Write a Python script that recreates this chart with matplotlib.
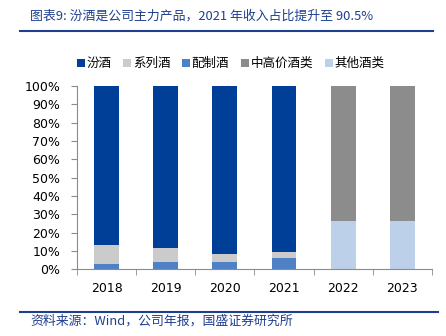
import matplotlib.pyplot as plt
from matplotlib.lines import Line2D
from matplotlib.ticker import PercentFormatter

plt.rcParams['font.family'] = ['Noto Sans CJK SC', 'DejaVu Sans']

# 数据
years = ['2018', '2019', '2020', '2021', '2022', '2023']
fenjiu = [86.8, 88.5, 91.9, 90.5, 0, 0]
xilie = [10.3, 7.7, 4.1, 3.6, 0, 0]
peizhi = [2.9, 3.8, 4.0, 5.9, 0, 0]
zhonggao = [0, 0, 0, 0, 73.6, 73.8]
qita = [0, 0, 0, 0, 26.4, 26.2]

series_names = ['汾酒', '系列酒', '配制酒', '中高价酒类', '其他酒类']
colors = ['#003f98', '#cbcbcb', '#4f81c6', '#8c8c8c', '#bdd0ea']

fig = plt.figure(figsize=(4.46, 3.36), dpi=100)
ax = fig.add_axes([0.1726, 0.199, 0.796, 0.545])

x = range(len(years))
w = 0.42
# 堆叠顺序：底部为配制酒/其他酒类
stack = [
    (peizhi, colors[2]),
    (xilie, colors[1]),
    (fenjiu, colors[0]),
    (qita, colors[4]),
    (zhonggao, colors[3]),
]
bottom = [0] * len(years)
for vals, c in stack:
    ax.bar(x, vals, w, bottom=bottom, color=c, linewidth=0)
    bottom = [b + v for b, v in zip(bottom, vals)]

ax.set_xlim(-0.5, len(years) - 0.5)
ax.set_ylim(0, 100)
ax.set_yticks(range(0, 101, 10))
ax.yaxis.set_major_formatter(PercentFormatter(decimals=0))
ax.set_xticks(list(x))
ax.set_xticklabels(years)
ax.set_xticks([i + 0.5 for i in range(-1, len(years))], minor=True)

for s in ['top', 'right']:
    ax.spines[s].set_visible(False)
for s in ['left', 'bottom']:
    ax.spines[s].set_color('#8c8c8c')
    ax.spines[s].set_linewidth(0.8)
ax.tick_params(axis='y', length=4, color='#8c8c8c', labelsize=9, pad=8)
ax.tick_params(axis='x', which='major', length=0, labelsize=9, pad=9)
ax.tick_params(axis='x', which='minor', length=4, color='#8c8c8c')
for lab in ax.get_xticklabels() + ax.get_yticklabels():
    lab.set_family(['DejaVu Sans'])

handles = [Line2D([], [], marker='s', linestyle='', markersize=5.5,
                  markerfacecolor=c, markeredgewidth=0) for c in colors]
fig.legend(handles, series_names, loc='center', bbox_to_anchor=(0.518, 0.81),
           ncol=5, frameon=False, fontsize=9, handlelength=0.5,
           handletextpad=0.2, columnspacing=1.0)

# 标题与来源
blue = '#1f3f8f'
fig.text(0.067, 0.952, '图表9: 汾酒是公司主力产品，2021 年收入占比提升至 90.5%',
         color=blue, fontsize=9.3, va='center', style='italic')
fig.add_artist(Line2D([0.045, 0.97], [0.908, 0.908], color=blue, linewidth=1.5))
fig.add_artist(Line2D([0.045, 0.982], [0.072, 0.072], color=blue, linewidth=1.5))
fig.text(0.067, 0.043, '资料来源：Wind，公司年报，国盛证券研究所',
         color=blue, fontsize=9.3, va='center', style='italic')

fig.savefig('out.png', dpi=100)
